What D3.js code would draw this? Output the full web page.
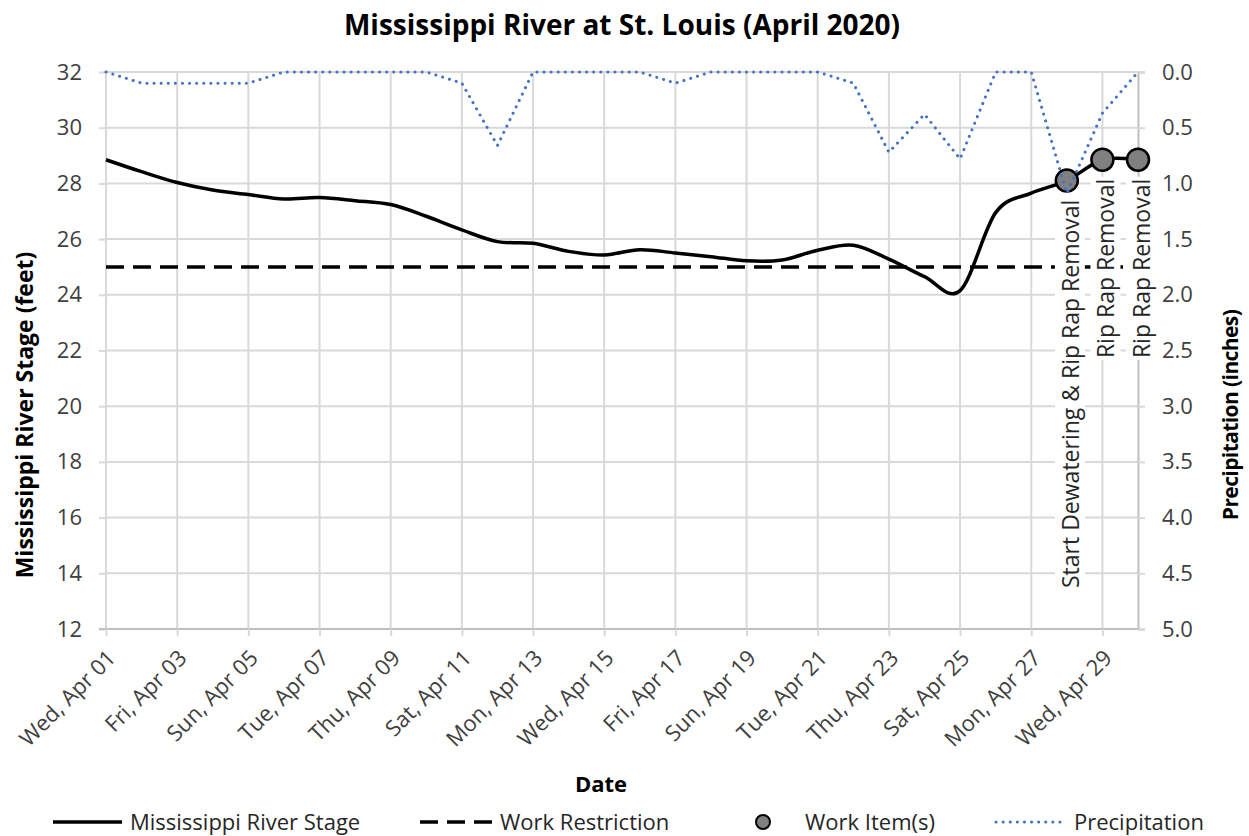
<!DOCTYPE html>
<html>
<head>
<meta charset="utf-8">
<style>
  body { margin: 0; background: #ffffff; }
  text { font-family: "Open Sans", "Noto Sans", sans-serif; }
</style>
</head>
<body>
<script src="https://cdn.jsdelivr.net/npm/d3@7"></script>
<script>
var svgWidth = 1249, svgHeight = 836;

// daily readings, April 2020
var days = ['2020-04-01', '2020-04-02', '2020-04-03', '2020-04-04', '2020-04-05', '2020-04-06',
            '2020-04-07', '2020-04-08', '2020-04-09', '2020-04-10', '2020-04-11', '2020-04-12',
            '2020-04-13', '2020-04-14', '2020-04-15', '2020-04-16', '2020-04-17', '2020-04-18',
            '2020-04-19', '2020-04-20', '2020-04-21', '2020-04-22', '2020-04-23', '2020-04-24',
            '2020-04-25', '2020-04-26', '2020-04-27', '2020-04-28', '2020-04-29', '2020-04-30'];
var riverStage = [28.85, 28.42, 28.03, 27.76, 27.6, 27.44, 27.49, 27.38, 27.24, 26.82,
                  26.33, 25.91, 25.85, 25.56, 25.43, 25.62, 25.5, 25.37, 25.22, 25.25,
                  25.6, 25.78, 25.28, 24.65, 24.15, 26.95, 27.65, 28.1, 28.85, 28.85];
var precipitation = [0, 0.1, 0.1, 0.1, 0.1, 0, 0, 0, 0, 0,
                     0.1, 0.66, 0, 0, 0, 0, 0.1, 0, 0, 0,
                     0, 0.1, 0.72, 0.38, 0.78, 0, 0, 1.09, 0.37, 0];
var workRestriction = 25;

var workDays = ['2020-04-28', '2020-04-29', '2020-04-30'];
var workStage = [28.1, 28.85, 28.85];
var workLabels = ['Start Dewatering & Rip Rap Removal', 'Rip Rap Removal', 'Rip Rap Removal'];

var stageTicks = [12, 14, 16, 18, 20, 22, 24, 26, 28, 30, 32];
var precipTicks = [0, 0.5, 1, 1.5, 2, 2.5, 3, 3.5, 4, 4.5, 5];
var dateTicks = ['2020-04-01', '2020-04-03', '2020-04-05', '2020-04-07', '2020-04-09',
                 '2020-04-11', '2020-04-13', '2020-04-15', '2020-04-17', '2020-04-19',
                 '2020-04-21', '2020-04-23', '2020-04-25', '2020-04-27', '2020-04-29'];

var legendItems = ['Mississippi River Stage', 'Work Restriction', 'Work Item(s)', 'Precipitation'];

var parseDay = d3.timeParse('%Y-%m-%d');
var stageData = days.map(function (d, i) { return { date: parseDay(d), v: riverStage[i] }; });
var precipData = days.map(function (d, i) { return { date: parseDay(d), v: precipitation[i] }; });
var workData = workDays.map(function (d, i) { return { date: parseDay(d), v: workStage[i], label: workLabels[i] }; });

var graphArea = { left: 106, right: 1138, top: 72, bottom: 629 };
var gridColor = '#d9d9d9', textColor = '#404040';

var svg = d3.select('body').append('svg')
    .attr('width', svgWidth)
    .attr('height', svgHeight)
    .style('background-color', '#ffffff');

var xScale = d3.scaleTime()
    .domain([parseDay(days[0]), parseDay(days[days.length - 1])])
    .range([graphArea.left, graphArea.right]);
var yScale = d3.scaleLinear().domain([12, 32]).range([graphArea.bottom, graphArea.top]);
var precipScale = d3.scaleLinear().domain([0, 5]).range([graphArea.top, graphArea.bottom]);

// gridlines
svg.append('g').selectAll('line.h')
    .data(stageTicks).enter().append('line')
    .attr('x1', graphArea.left).attr('x2', graphArea.right)
    .attr('y1', function (d) { return yScale(d); })
    .attr('y2', function (d) { return yScale(d); })
    .attr('stroke', gridColor).attr('stroke-width', 2);
svg.append('g').selectAll('line.v')
    .data(dateTicks).enter().append('line')
    .attr('x1', function (d) { return xScale(parseDay(d)); })
    .attr('x2', function (d) { return xScale(parseDay(d)); })
    .attr('y1', graphArea.top).attr('y2', graphArea.bottom)
    .attr('stroke', gridColor).attr('stroke-width', 2);

// axes
var leftAxis = svg.append('g')
    .attr('transform', 'translate(' + graphArea.left + ',0)')
    .call(d3.axisLeft(yScale).tickValues(stageTicks).tickSize(7).tickPadding(17));
var rightAxis = svg.append('g')
    .attr('transform', 'translate(' + graphArea.right + ',0)')
    .call(d3.axisRight(precipScale).tickValues(precipTicks).tickSize(7).tickPadding(17)
        .tickFormat(d3.format('.1f')));
var bottomAxis = svg.append('g')
    .attr('transform', 'translate(0,' + graphArea.bottom + ')')
    .call(d3.axisBottom(xScale).tickValues(dateTicks.map(parseDay)).tickSize(7)
        .tickFormat(d3.timeFormat('%a, %b %d')));

[leftAxis, rightAxis, bottomAxis].forEach(function (a) {
    a.select('.domain').attr('stroke', '#bfbfbf').attr('stroke-width', 2);
    a.selectAll('.tick line').attr('stroke', gridColor).attr('stroke-width', 2);
    a.selectAll('.tick text').attr('fill', textColor).style('font-size', '22px');
});
leftAxis.select('.domain').remove();
bottomAxis.select('.domain').attr('d', 'M' + (graphArea.left - 7) + ',0H' + graphArea.right);

bottomAxis.selectAll('.tick text')
    .attr('text-anchor', 'end')
    .attr('x', 0).attr('y', 0).attr('dy', '0.35em')
    .attr('transform', 'translate(5,25) rotate(-45)');

// series
var stageLine = d3.line()
    .x(function (d) { return xScale(d.date); })
    .y(function (d) { return yScale(d.v); })
    .curve(d3.curveCatmullRom.alpha(0));
var precipLine = d3.line()
    .x(function (d) { return xScale(d.date); })
    .y(function (d) { return precipScale(d.v); });

svg.append('line')
    .attr('x1', xScale(parseDay(days[0]))).attr('x2', xScale(parseDay(days[days.length - 1])))
    .attr('y1', yScale(workRestriction)).attr('y2', yScale(workRestriction))
    .attr('stroke', '#000').attr('stroke-width', 3.5).attr('stroke-dasharray', '18,9');

svg.append('path').datum(stageData)
    .attr('d', stageLine)
    .attr('fill', 'none').attr('stroke', '#000').attr('stroke-width', 3.5);

svg.selectAll('circle.work')
    .data(workData).enter().append('circle')
    .attr('cx', function (d) { return xScale(d.date); })
    .attr('cy', function (d) { return yScale(d.v); })
    .attr('r', 11)
    .attr('fill', '#808080').attr('stroke', '#000').attr('stroke-width', 2.5);

svg.append('path').datum(precipData)
    .attr('d', precipLine)
    .attr('fill', 'none').attr('stroke', '#4472c4').attr('stroke-width', 3)
    .attr('stroke-linecap', 'round').attr('stroke-dasharray', '0.1,7');

// work item labels, on white boxes
var labelGroups = svg.selectAll('g.workLabel')
    .data(workData).enter().append('g')
    .attr('transform', function (d) {
        return 'translate(' + (xScale(d.date) + 4) + ',' + (yScale(d.v) + 19) + ') rotate(-90)';
    });
labelGroups.append('text')
    .attr('text-anchor', 'end')
    .attr('dy', '0.35em')
    .attr('fill', '#262626')
    .style('font-size', '23px')
    .text(function (d) { return d.label; });
labelGroups.each(function () {
    var g = d3.select(this);
    var bb = g.select('text').node().getBBox();
    g.insert('rect', 'text')
        .attr('x', bb.x - 2).attr('y', bb.y + 1)
        .attr('width', bb.width + 4).attr('height', bb.height - 2)
        .attr('fill', '#ffffff');
});

// titles
var titleMid = 415;
svg.append('text')
    .attr('x', 622).attr('y', 35)
    .attr('text-anchor', 'middle')
    .style('font-size', '28px').style('font-weight', 'bold')
    .attr('fill', '#000')
    .text('Mississippi River at St. Louis (April 2020)');
svg.append('text')
    .attr('x', 601).attr('y', 792)
    .attr('text-anchor', 'middle')
    .style('font-size', '22px').style('font-weight', 'bold')
    .attr('fill', '#000')
    .text('Date');
svg.append('text')
    .attr('transform', 'translate(33,' + titleMid + ') rotate(-90)')
    .attr('text-anchor', 'middle')
    .style('font-size', '23px').style('font-weight', 'bold')
    .attr('fill', '#000')
    .text('Mississippi River Stage (feet)');
svg.append('text')
    .attr('transform', 'translate(1238,' + titleMid + ') rotate(-90)')
    .attr('text-anchor', 'middle')
    .style('font-size', '21px').style('font-weight', 'bold')
    .style('letter-spacing', '-0.6px')
    .attr('fill', '#000')
    .text('Precipitation (inches)');

// legend
var legendY = 822;
var legend = svg.append('g');
legend.append('line').attr('x1', 53).attr('x2', 122).attr('y1', legendY).attr('y2', legendY)
    .attr('stroke', '#000').attr('stroke-width', 3.5);
legend.append('line').attr('x1', 420).attr('x2', 494).attr('y1', legendY).attr('y2', legendY)
    .attr('stroke', '#000').attr('stroke-width', 3.5).attr('stroke-dasharray', '18,9');
legend.append('circle').attr('cx', 763).attr('cy', legendY).attr('r', 7)
    .attr('fill', '#808080').attr('stroke', '#000').attr('stroke-width', 2);
legend.append('line').attr('x1', 996).attr('x2', 1060).attr('y1', legendY).attr('y2', legendY)
    .attr('stroke', '#4472c4').attr('stroke-width', 3)
    .attr('stroke-linecap', 'round').attr('stroke-dasharray', '0.1,7');
var legendTextX = [130, 500, 805, 1074];
legend.selectAll('text')
    .data(legendItems).enter().append('text')
    .attr('x', function (d, i) { return legendTextX[i]; })
    .attr('y', legendY + 8)
    .attr('fill', '#262626')
    .style('font-size', '22px')
    .text(function (d) { return d; });
</script>
</body>
</html>
